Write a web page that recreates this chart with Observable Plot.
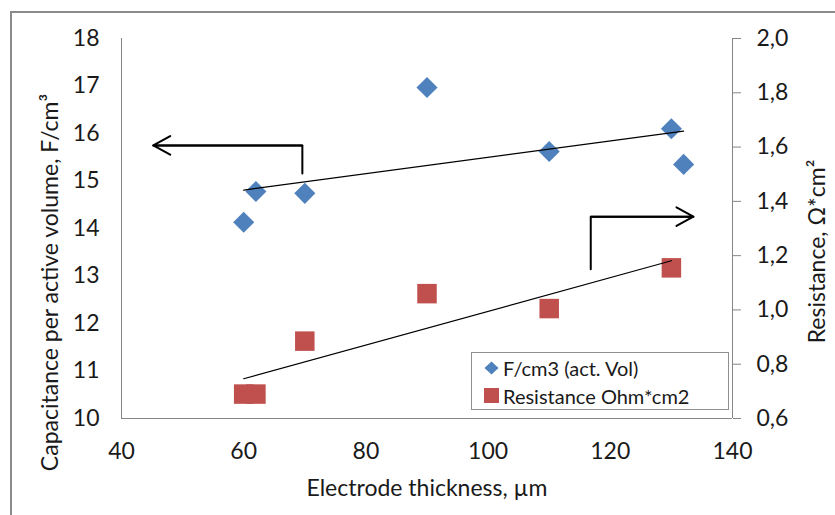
<!DOCTYPE html>
<html><head><meta charset="utf-8">
<script src="https://cdn.jsdelivr.net/npm/d3@7"></script>
<script src="https://cdn.jsdelivr.net/npm/@observablehq/plot@0.6"></script>
<style>
html,body{margin:0;padding:0;background:#fff;overflow:hidden;}
#wrap{position:relative;width:835px;height:515px;overflow:hidden;}
#frame{position:absolute;left:10px;top:11px;width:900px;height:600px;border-left:2px solid #8a8a8a;border-top:2px solid #8a8a8a;pointer-events:none;}
#legend{position:absolute;left:471px;top:352px;width:256px;height:56px;border:1px solid #909090;background:#fff;font-family:Lato, sans-serif;font-size:20px;color:#1a1a1a;}
#legend .sym{position:absolute;}
#legend .lbl{position:absolute;left:31px;white-space:nowrap;line-height:1;}
</style></head>
<body><div id="wrap"><div id="frame"></div></div>
<script>
// Data
const thickness = [60, 62, 70, 90, 110, 130, 132];
const capacitance = [14.13, 14.78, 14.74, 16.97, 15.62, 16.10, 15.35];
const resThickness = [60, 62, 70, 90, 110, 130];
const resistance = [0.69, 0.69, 0.885, 1.06, 1.005, 1.155];

// Axes / ticks
const xDomain = [40, 140];
const yLeftDomain = [10, 18];
const yRightDomain = [0.6, 2.0];
const xTicks = [40, 60, 80, 100, 120, 140];
const yLeftTicks = [10, 11, 12, 13, 14, 15, 16, 17, 18];
const yRightTicks = [0.6, 0.8, 1.0, 1.2, 1.4, 1.6, 1.8, 2.0];

// Text
const xTitle = "Electrode thickness, µm";
const yLeftTitle = "Capacitance per active volume, F/cm³";
const yRightTitle = "Resistance, Ω*cm²";
const seriesNames = ["F/cm3 (act. Vol)", "Resistance Ohm*cm2"];
const seriesColors = ["#4F81BD", "#C0504D"];

// Annotation arrows (data units)
const leftArrowPath = [{x: 69.6, y: 15.16}, {x: 69.6, y: 15.75}, {x: 45.2, y: 15.75}];
const rightArrowPath = [{x: 116.8, y: 13.14}, {x: 116.8, y: 14.25}, {x: 133.6, y: 14.25}];

const toLeft = r => yLeftDomain[0] + (r - yRightDomain[0]) * (yLeftDomain[1] - yLeftDomain[0]) / (yRightDomain[1] - yRightDomain[0]);
const toRight = v => yRightDomain[0] + (v - yLeftDomain[0]) * (yRightDomain[1] - yRightDomain[0]) / (yLeftDomain[1] - yLeftDomain[0]);

const capData = thickness.map((x, i) => ({x, y: capacitance[i]}));
const resData = resThickness.map((x, i) => ({x, y: toLeft(resistance[i])}));
const headSeg = p => [{x1: p[1].x, y1: p[1].y, x2: p[2].x, y2: p[2].y}];

const axisGray = "#868686";
const textCol = "#1a1a1a";

const chart = Plot.plot({
  width: 835, height: 515,
  marginLeft: 121, marginRight: 103, marginTop: 38, marginBottom: 97,
  style: {fontFamily: "Lato, sans-serif", fontSize: "23px", color: textCol, background: "transparent"},
  x: {domain: xDomain},
  y: {domain: yLeftDomain},
  marks: [
    Plot.ruleX([xDomain[0]], {stroke: axisGray}),
    Plot.ruleX([xDomain[1]], {stroke: axisGray}),
    Plot.ruleY([yLeftDomain[0]], {stroke: axisGray}),
    Plot.axisX(xTicks, {tickSize: 0, tickPadding: 24, label: null, fill: textCol}),
    Plot.axisY(yLeftTicks, {anchor: "left", tickSize: 0, tickPadding: 22, label: null, fill: textCol}),
    Plot.axisY(yRightTicks.map(toLeft), {anchor: "right", tickSize: 8, tickPadding: 16, stroke: axisGray, fill: textCol, label: null,
      tickFormat: v => toRight(v).toFixed(1).replace(".", ",")}),
    Plot.dot(capData, {x: "x", y: "y", symbol: "diamond2", r: 9.5, fill: seriesColors[0]}),
    Plot.dot(resData, {x: "x", y: "y", symbol: "square", r: 11, fill: seriesColors[1]}),
    Plot.linearRegressionY(capData, {x: "x", y: "y", stroke: "#000", strokeWidth: 1.2, ci: 0}),
    Plot.linearRegressionY(resData, {x: "x", y: "y", stroke: "#000", strokeWidth: 1.2, ci: 0}),
    Plot.line(leftArrowPath, {x: "x", y: "y", stroke: "#000", strokeWidth: 2, strokeLinejoin: "miter"}),
    Plot.line(rightArrowPath, {x: "x", y: "y", stroke: "#000", strokeWidth: 2, strokeLinejoin: "miter"}),
    Plot.arrow(headSeg(leftArrowPath), {x1: "x1", y1: "y1", x2: "x2", y2: "y2", stroke: "#000", strokeWidth: 2, headLength: 14.5, headAngle: 58}),
    Plot.arrow(headSeg(rightArrowPath), {x1: "x1", y1: "y1", x2: "x2", y2: "y2", stroke: "#000", strokeWidth: 2, headLength: 14.5, headAngle: 58}),
    Plot.text([xTitle], {frameAnchor: "bottom", dy: 70, lineAnchor: "middle", fill: textCol}),
    Plot.text([yLeftTitle], {frameAnchor: "left", rotate: -90, dx: -71, dy: 54, lineAnchor: "middle", textAnchor: "middle", fill: textCol}),
    Plot.text([yRightTitle], {frameAnchor: "right", rotate: -90, dx: 85, dy: 23, lineAnchor: "middle", textAnchor: "middle", fill: textCol})
  ]
});

const wrap = document.getElementById("wrap");
wrap.insertBefore(chart, wrap.firstChild);
chart.style.position = "absolute";
chart.style.left = "0px";
chart.style.top = "0px";

// Legend
const legend = document.createElement("div");
legend.id = "legend";
legend.innerHTML =
  `<svg class="sym" style="left:12px;top:8px" width="15" height="14"><path d="M7.5 0.5 L14.5 7 L7.5 13.5 L0.5 7 Z" fill="${seriesColors[0]}"/></svg>` +
  `<span class="lbl" style="top:5px">${seriesNames[0]}</span>` +
  `<svg class="sym" style="left:12px;top:35px" width="15" height="15"><rect x="0" y="0" width="15" height="15" fill="${seriesColors[1]}"/></svg>` +
  `<span class="lbl" style="top:33px">${seriesNames[1]}</span>`;
wrap.appendChild(legend);
</script>
</body></html>
